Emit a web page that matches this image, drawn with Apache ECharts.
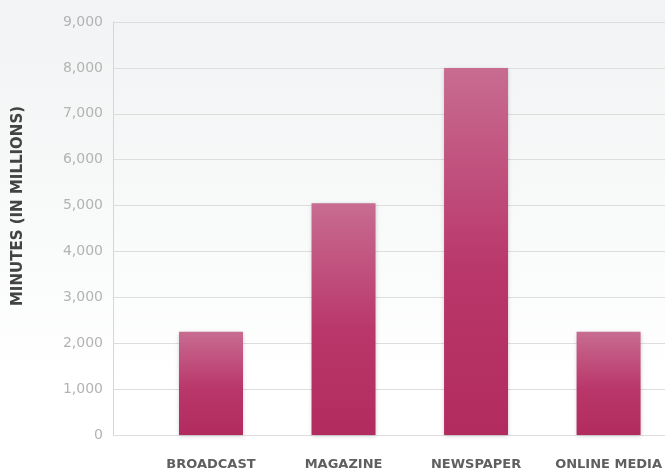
<!DOCTYPE html>
<html>
<head>
<meta charset="utf-8">
<script src="https://cdn.jsdelivr.net/npm/echarts@6/dist/echarts.min.js"></script>
<style>
  html, body { margin: 0; padding: 0; background: #ffffff; }
  #chart { width: 665px; height: 472px; }
</style>
</head>
<body>
<div id="chart"></div>
<script>
// Media categories and their minutes (in millions)
const categories = ['BROADCAST', 'MAGAZINE', 'NEWSPAPER', 'ONLINE MEDIA'];
const minutes = [2250, 5050, 8000, 2250];
const yTicks = { min: 0, max: 9000, step: 1000 };
const yTitle = 'MINUTES (IN MILLIONS)';

const chart = echarts.init(document.getElementById('chart'), null, { renderer: 'canvas' });

const barGradient = new echarts.graphic.LinearGradient(0, 0, 0, 1, [
  { offset: 0, color: '#c86c91' },
  { offset: 0.55, color: '#b9376a' },
  { offset: 1, color: '#b22b5e' }
]);

chart.setOption({
  backgroundColor: {
    type: 'linear', x: 0, y: 0, x2: 0, y2: 1,
    colorStops: [
      { offset: 0, color: '#f1f3f4' },
      { offset: 0.5, color: '#f9fafa' },
      { offset: 0.8, color: '#ffffff' },
      { offset: 1, color: '#ffffff' }
    ]
  },
  animation: false,
  grid: [
    // value scale with gridlines, spanning to the right edge
    { left: 113, right: 0, top: 22, height: 413 },
    // bar area: category centres sit on the grid edges
    { left: 211, width: 399, top: 22, height: 413 }
  ],
  xAxis: [
    { gridIndex: 0, type: 'value', show: false },
    {
      gridIndex: 1,
      type: 'category',
      data: categories,
      boundaryGap: false,
      axisLine: { show: false },
      axisTick: { show: false },
      axisLabel: {
        interval: 0,
        margin: 23,
        color: '#5f5f5f',
        fontFamily: 'DejaVu Sans',
        fontWeight: 'bold',
        fontSize: 13
      }
    }
  ],
  yAxis: [
    {
      gridIndex: 0,
      type: 'value',
      min: yTicks.min,
      max: yTicks.max,
      interval: yTicks.step,
      axisLine: { show: true, lineStyle: { color: '#d6d6d6', width: 1 } },
      axisTick: { show: false },
      splitLine: { show: true, lineStyle: { color: '#dedcdc', width: 1 } },
      axisLabel: {
        margin: 10,
        color: '#b3b3b3',
        fontFamily: 'DejaVu Sans',
        fontSize: 14,
        formatter: v => v.toLocaleString('en-US')
      }
    },
    {
      gridIndex: 1,
      type: 'value',
      min: yTicks.min,
      max: yTicks.max,
      show: false,
      splitLine: { show: false }
    }
  ],
  graphic: [
    {
      type: 'text',
      x: 18,
      y: 206,
      rotation: Math.PI / 2,
      style: {
        text: yTitle,
        fill: '#434343',
        font: 'bold 15px "DejaVu Sans"',
        align: 'center',
        verticalAlign: 'middle'
      }
    }
  ],
  series: [
    {
      type: 'bar',
      xAxisIndex: 1,
      yAxisIndex: 1,
      data: minutes,
      barWidth: 64,
      itemStyle: {
        color: barGradient,
        shadowColor: 'rgba(0,0,0,0.18)',
        shadowBlur: 4,
        shadowOffsetY: 1
      }
    }
  ]
});
</script>
</body>
</html>
